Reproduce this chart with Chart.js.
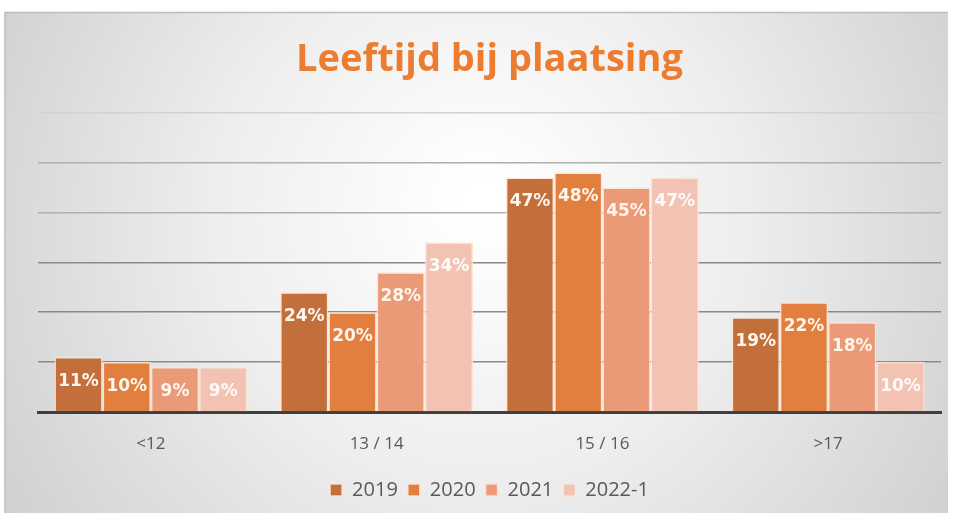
<!DOCTYPE html>
<html><head><meta charset="utf-8">
<script src="https://cdn.jsdelivr.net/npm/chart.js@4/dist/chart.umd.min.js"></script>
<style>html,body{margin:0;padding:0;background:#fff;}#wrap{width:953px;height:513px;position:relative;}</style>
</head><body><div id="wrap"><canvas id="c" width="953" height="513"></canvas></div>
<script>
const categories = ['<12', '13 / 14', '15 / 16', '>17'];
const seriesNames = ['2019', '2020', '2021', '2022-1'];
const values2019 = [11, 24, 47, 19];
const values2020 = [10, 20, 48, 22];
const values2021 = [9, 28, 45, 18];
const values2022 = [9, 34, 47, 10];
const yTicks = [0, 10, 20, 30, 40, 50, 60];

const colors = ['#c26f3b', '#e27f3e', '#eb9a78', '#f2c3b3'];

const bgPlugin = {
  id: 'bg',
  beforeDraw(chart) {
    const ctx = chart.ctx;
    const W = chart.width, H = chart.height;
    ctx.save();
    ctx.fillStyle = '#ffffff';
    ctx.fillRect(0, 0, W, H);
    const g = ctx.createRadialGradient(480, 200, 20, 480, 240, 560);
    g.addColorStop(0, '#ffffff');
    g.addColorStop(0.45, '#eeeeee');
    g.addColorStop(1, '#cfcfcf');
    ctx.fillStyle = g;
    ctx.fillRect(5, 12, W - 10, H - 12);
    ctx.strokeStyle = '#bdbdbd';
    ctx.lineWidth = 1.5;
    ctx.beginPath();
    ctx.moveTo(5, H); ctx.lineTo(5, 12.5); ctx.lineTo(W - 5, 12.5);
    ctx.stroke();
    ctx.restore();
  }
};

const labelPlugin = {
  id: 'vlabels',
  afterDatasetsDraw(chart) {
    const ctx = chart.ctx;
    ctx.save();
    ctx.font = 'bold 17px "DejaVu Sans", "Open Sans", sans-serif';
    ctx.textAlign = 'center';
    ctx.textBaseline = 'middle';
    chart.data.datasets.forEach((ds, i) => {
      const meta = chart.getDatasetMeta(i);
      meta.data.forEach((bar, j) => {
        ctx.fillStyle = i === 3 ? 'rgba(255,255,255,0.92)' : '#fff6ee';
        ctx.fillText(ds.data[j] + '%', bar.x, bar.y + 24);
      });
    });
    ctx.restore();
  }
};

const datasets = [values2019, values2020, values2021, values2022].map((v, i) => ({
  label: seriesNames[i],
  data: v,
  backgroundColor: colors[i],
  borderColor: 'rgba(253,228,210,0.9)',
  borderWidth: 1.5,
  categoryPercentage: 0.855,
  barPercentage: 1.0
}));

new Chart(document.getElementById('c'), {
  type: 'bar',
  data: { labels: categories, datasets },
  plugins: [bgPlugin, labelPlugin],
  options: {
    responsive: false,
    animation: false,
    layout: { padding: { left: 38, right: 12, top: 20, bottom: 3 } },
    plugins: {
      title: {
        display: true,
        text: 'Leeftijd bij plaatsing',
        color: '#ec7c30',
        font: { family: '"Open Sans", sans-serif', size: 38, weight: 'bold' },
        padding: { top: 17, bottom: 30 }
      },
      legend: {
        position: 'bottom',
        labels: {
          color: '#595959',
          font: { family: '"Open Sans", sans-serif', size: 20 },
          boxWidth: 12, boxHeight: 12, padding: 10,
          useBorderRadius: false
        }
      },
      tooltip: { enabled: false }
    },
    scales: {
      x: {
        afterFit(scale) { scale.height = 58; },
        grid: { display: false, drawTicks: false },
        border: { display: true, color: '#3f3f3f', width: 3 },
        ticks: { color: '#595959', font: { family: '"Open Sans", sans-serif', size: 17 }, padding: 22 }
      },
      y: {
        min: 0, max: 60,
        afterBuildTicks(scale) { scale.ticks = yTicks.map(v => ({ value: v })); },
        ticks: { display: false },
        border: { display: false },
        grid: {
          drawTicks: false,
          lineWidth: 1.5,
          color(ctx) {
            const v = ctx.tick ? ctx.tick.value : 0;
            if (v === 0) return '#3f3f3f';
            if (v <= 30) return '#8a8a8a';
            if (v <= 50) return '#b0b0b0';
            return '#d2d2d2';
          }
        }
      }
    }
  }
});
</script></body></html>
